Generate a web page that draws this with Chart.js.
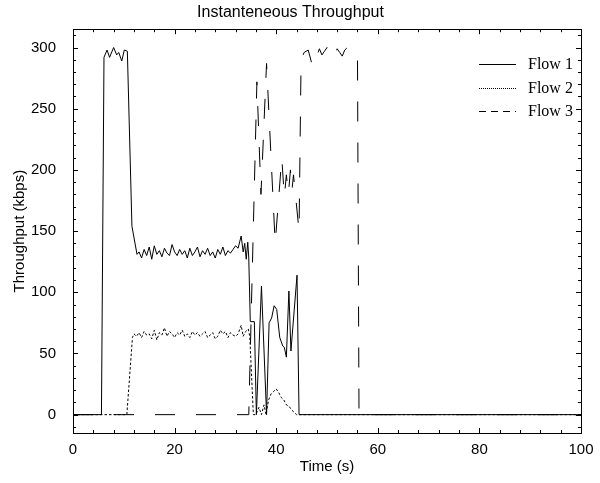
<!DOCTYPE html>
<html>
<head>
<meta charset="utf-8">
<script src="https://cdn.jsdelivr.net/npm/chart.js@4.4.1/dist/chart.umd.min.js"></script>
<style>
  html, body { margin: 0; padding: 0; background: #fff; }
  #wrap { width: 600px; height: 483px; }
</style>
</head>
<body>
<div id="wrap"><canvas id="throughputChart" width="600" height="483"></canvas></div>
<script>
// time (s) and throughput (kbps)
const flow1Time = [0, 5.6, 6.1, 6.7, 7.2, 8.0, 8.6, 9.0, 9.6, 10.1, 10.7, 11.6, 12.6,
    13, 13.5, 14, 14.5, 15, 15.5, 16, 16.5, 17, 17.5, 18, 18.5, 19, 19.5, 20, 20.5,
    21, 21.5, 22, 22.5, 23, 23.5, 24, 24.5, 25, 25.5, 26, 26.5, 27, 27.5, 28, 28.5,
    29, 29.5, 30, 30.5, 31, 31.5, 32, 32.5, 33.1, 33.5, 33.8, 34.1, 34.4, 34.6,
    34.9, 35.7, 36.1, 37.1, 38.1, 38.6, 39.1, 39.6, 40.1, 40.7, 41.3, 41.6, 42.0,
    42.5, 42.9, 44.1, 44.5, 100];
const flow1Kbps = [0, 0, 292, 298, 292, 300, 294, 296, 289, 298, 297, 154, 131,
    133, 128, 135, 130, 137, 127, 138, 131, 134, 129, 136, 132, 130, 139, 133, 130,
    135, 131, 134, 128, 136, 130, 133, 137, 129, 134, 131, 136, 130, 133, 128, 135,
    131, 137, 130, 134, 132, 135, 138, 136, 146, 133, 140, 127, 141, 128,
    76, 76, 0, 105, 0, 75, 79, 89, 86, 63, 56, 55, 47,
    101, 52, 114, 0, 0];

const flow2Time = [0, 10.6, 11.7, 12, 12.5, 13, 13.5, 14, 14.5, 15, 15.5, 16, 16.5,
    17, 17.5, 18, 18.5, 19, 19.5, 20, 20.5, 21, 21.5, 22, 22.5, 23, 23.5, 24, 24.5,
    25, 25.5, 26, 26.5, 27, 27.5, 28, 28.5, 29, 29.5, 30, 30.5, 31, 31.5, 32, 32.5,
    33.1, 33.5, 34, 34.5, 34.8, 35.5, 36.0, 36.6, 37.1, 37.6, 38.0, 38.5, 39.0,
    39.5, 40.0, 40.5, 41.0, 41.5, 42.0, 42.5, 43.0, 43.5, 44.0, 100];
const flow2Kbps = [0, 0, 63, 66, 64, 67, 63, 68, 65, 66, 62, 69, 61,
    67, 65, 71, 64, 68, 66, 63, 67, 65, 69, 64, 66, 63, 68, 65, 67,
    64, 66, 68, 63, 65, 67, 62, 64, 69, 66, 68, 63, 67, 65, 64, 66,
    73, 64, 68, 70, 64, 0, 0, 6, 0, 8, 0, 12, 17,
    19, 21, 18, 14, 12, 8, 7, 4, 2, 0, 0];

const flow3Time = [0, 34.6, 36.2, 37.0, 38.1, 39.8, 41.1, 41.6, 42.0, 42.4, 42.8,
    43.1, 43.4, 44.5, 44.9, 45.5, 46.3, 47.0, 47.5, 48, 48.5, 49, 49.5, 50, 50.5,
    51, 51.5, 52, 52.5, 53, 53.5, 54, 54.5, 55, 55.5, 56.0, 56.3, 100];
const flow3Kbps = [0, 0, 272, 180, 287, 140, 210, 178, 196, 180, 200,
    183, 196, 150, 290, 296, 298, 287, 296, 293, 299, 294, 297, 300, 295,
    298, 294, 299, 296, 293, 298, 300, 296, 297, 295, 294, 0, 0];

const flowLabels = ['Flow 1', 'Flow 2', 'Flow 3'];
const xTickValues = [0, 20, 40, 60, 80, 100];
const yTickValues = [0, 50, 100, 150, 200, 250, 300];

const toPoints = (times, values) => times.map((t, i) => ({ x: t, y: values[i] }));

const sansFont = '"Liberation Sans", Arial, sans-serif';
const serifFont = '"Liberation Serif", "Times New Roman", serif';

// box round the plot with inward major/minor ticks on all four sides
const frameTicks = {
    id: 'frameTicks',
    afterDatasetsDraw(chart) {
        const { ctx, chartArea: a, scales } = chart;
        ctx.save();
        ctx.strokeStyle = '#000';
        ctx.lineWidth = 1;
        ctx.strokeRect(Math.round(a.left) + 0.5, Math.round(a.top) + 0.5,
            Math.round(a.right - a.left), Math.round(a.bottom - a.top));
        ctx.beginPath();
        for (let v = 0; v <= 100; v += 4) {
            const x = Math.round(scales.x.getPixelForValue(v)) + 0.5;
            const len = v % 20 === 0 ? 5 : 3;
            ctx.moveTo(x, a.bottom); ctx.lineTo(x, a.bottom - len);
            ctx.moveTo(x, a.top); ctx.lineTo(x, a.top + len);
        }
        for (let v = -10; v <= 310; v += 10) {
            const y = Math.round(scales.y.getPixelForValue(v)) + 0.5;
            const len = v % 50 === 0 ? 5 : 3;
            ctx.moveTo(a.left, y); ctx.lineTo(a.left + len, y);
            ctx.moveTo(a.right, y); ctx.lineTo(a.right - len, y);
        }
        ctx.stroke();
        ctx.restore();
    }
};

// legend in the upper right corner: sample line, then serif label
const cornerLegend = {
    id: 'cornerLegend',
    afterDraw(chart) {
        const { ctx, chartArea: a } = chart;
        const dashes = [[], [1, 1], [7, 5]];
        ctx.save();
        ctx.font = '16px ' + serifFont;
        ctx.fillStyle = '#000';
        ctx.strokeStyle = '#000';
        ctx.lineWidth = 1;
        ctx.textBaseline = 'middle';
        chart.data.datasets.forEach((ds, i) => {
            const y = Math.round(a.top + 35 + i * 23.5) + 0.5;
            ctx.setLineDash(dashes[i]);
            ctx.beginPath();
            ctx.moveTo(a.right - 102, y);
            ctx.lineTo(a.right - 65, y);
            ctx.stroke();
            ctx.fillText(ds.label, a.right - 53, y);
        });
        ctx.restore();
    }
};

const lineStyle = { borderColor: '#000', borderWidth: 1, pointRadius: 0, tension: 0, fill: false };

new Chart(document.getElementById('throughputChart'), {
    type: 'line',
    data: {
        datasets: [
            { label: flowLabels[0], data: toPoints(flow1Time, flow1Kbps), ...lineStyle },
            { label: flowLabels[1], data: toPoints(flow2Time, flow2Kbps), ...lineStyle, borderDash: [2.5, 2] },
            { label: flowLabels[2], data: toPoints(flow3Time, flow3Kbps), ...lineStyle, borderDash: [20, 21] }
        ]
    },
    options: {
        responsive: false,
        animation: false,
        devicePixelRatio: 1,
        layout: { padding: { right: 19 } },
        plugins: {
            legend: { display: false },
            tooltip: { enabled: false },
            title: {
                display: true,
                text: 'Instanteneous Throughput',
                color: '#000',
                font: { family: sansFont, size: 16, weight: 'normal' },
                padding: { top: 3, bottom: 7 }
            }
        },
        scales: {
            x: {
                type: 'linear',
                min: 0,
                max: 100,
                grid: { display: false },
                border: { display: false },
                afterBuildTicks: (scale) => { scale.ticks = xTickValues.map(v => ({ value: v })); },
                afterFit: (scale) => { scale.height = 50; },
                ticks: { color: '#000', font: { family: sansFont, size: 15 }, padding: 0, maxRotation: 0, autoSkip: false },
                title: {
                    display: true,
                    text: 'Time (s)',
                    color: '#000',
                    font: { family: sansFont, size: 15 },
                    padding: { top: 0, bottom: 7 }
                }
            },
            y: {
                type: 'linear',
                min: -15,
                max: 315,
                grid: { display: false },
                border: { display: false },
                afterBuildTicks: (scale) => { scale.ticks = yTickValues.map(v => ({ value: v })); },
                afterFit: (scale) => { scale.width = 73; },
                ticks: { color: '#000', font: { family: sansFont, size: 15 }, padding: 9, autoSkip: false },
                title: {
                    display: true,
                    text: 'Throughput (kbps)',
                    color: '#000',
                    font: { family: sansFont, size: 15 },
                    padding: { top: 11, bottom: 0 }
                }
            }
        }
    },
    plugins: [frameTicks, cornerLegend]
});
</script>
</body>
</html>
